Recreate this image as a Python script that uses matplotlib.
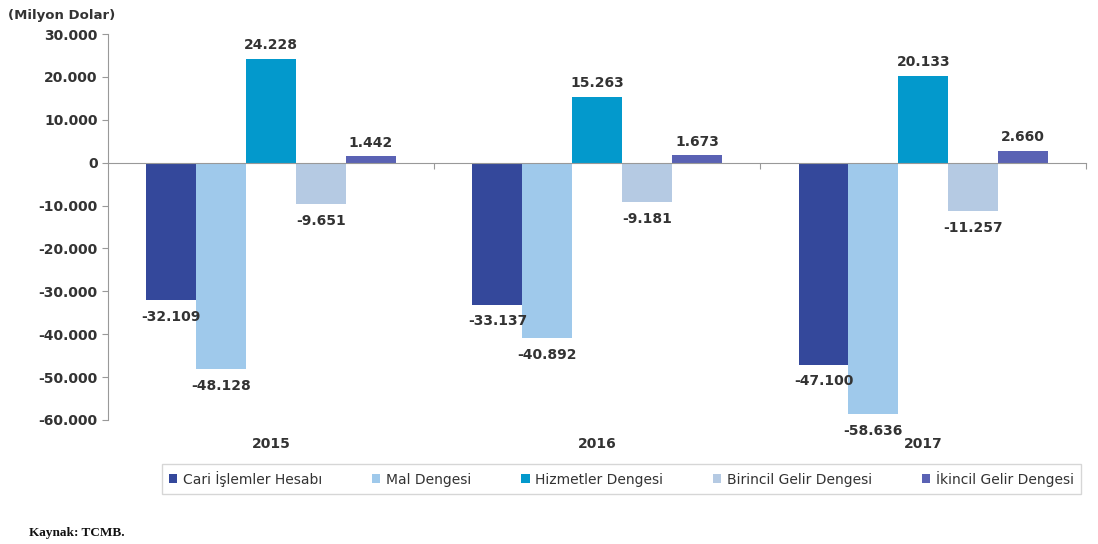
import numpy as np
import matplotlib.pyplot as plt
from matplotlib.ticker import FuncFormatter

years = ['2015', '2016', '2017']
series = ['Cari İşlemler Hesabı', 'Mal Dengesi', 'Hizmetler Dengesi',
          'Birincil Gelir Dengesi', 'İkincil Gelir Dengesi']
cari = [-32109, -33137, -47100]
mal = [-48128, -40892, -58636]
hizmet = [24228, 15263, 20133]
birincil = [-9651, -9181, -11257]
ikincil = [1442, 1673, 2660]
colors = ['#34489b', '#9fc9eb', '#0399cc', '#b5cae3', '#5a62b4']

values = [cari, mal, hizmet, birincil, ikincil]


def tr_num(v):
    s = f'{abs(int(round(v))):,}'.replace(',', '.')
    return ('-' if v < 0 else '') + s


fig = plt.figure(figsize=(10.98, 5.44), dpi=100)
ax = fig.add_axes([0.0984, 0.228, 0.891, 0.7095])

x = np.arange(len(years))
w = 0.153
txt_col = '#333333'
for i, (name, vals, c) in enumerate(zip(series, values, colors)):
    pos = x + (i - 2) * w
    ax.bar(pos, vals, width=w, color=c, label=name, zorder=2)
    for px, v in zip(pos, vals):
        off = 5 if v > 0 else -7
        ax.annotate(tr_num(v), (px, v), xytext=(0, off), textcoords='offset points',
                    ha='center', va='bottom' if v > 0 else 'top',
                    fontsize=10, fontweight='bold', color=txt_col)

ax.set_xlim(-0.5, 2.5)
ax.set_ylim(-60000, 30000)
ax.set_yticks(np.arange(-60000, 30001, 10000))
ax.yaxis.set_major_formatter(FuncFormatter(lambda v, p: tr_num(v)))
ax.tick_params(axis='y', labelsize=10, colors='#999999', labelcolor=txt_col, length=4)
for lab in ax.get_yticklabels():
    lab.set_fontweight('bold')

ax.spines['top'].set_visible(False)
ax.spines['right'].set_visible(False)
ax.spines['left'].set_color('#999999')
ax.spines['bottom'].set_position(('data', 0))
ax.spines['bottom'].set_color('#999999')
ax.set_xticks([0.5, 1.5, 2.5])
ax.set_xticklabels([])
ax.tick_params(axis='x', length=4, colors='#999999', direction='out')

for xi, yr in zip(x, years):
    ax.annotate(yr, (xi, -60000), xytext=(0, -12), textcoords='offset points',
                ha='center', va='top', fontsize=10, fontweight='bold', color=txt_col)

fig.text(0.007, 0.972, '(Milyon Dolar)', fontsize=9.5, fontweight='bold',
         color=txt_col, ha='left', va='center')
fig.text(0.026, 0.02, 'Kaynak: TCMB.', fontsize=9.5, fontweight='bold',
         family='Liberation Serif', ha='left', va='center', color='#111111')

leg = fig.legend(loc='center', bbox_to_anchor=(0.566, 0.12), ncol=5,
                 frameon=True, fancybox=False, edgecolor='#cccccc',
                 fontsize=10, handlelength=0.6, handleheight=0.6,
                 handletextpad=0.4, columnspacing=3.6, borderpad=0.5)
for t in leg.get_texts():
    t.set_color(txt_col)

fig.savefig('out.png', dpi=100, facecolor='white')
